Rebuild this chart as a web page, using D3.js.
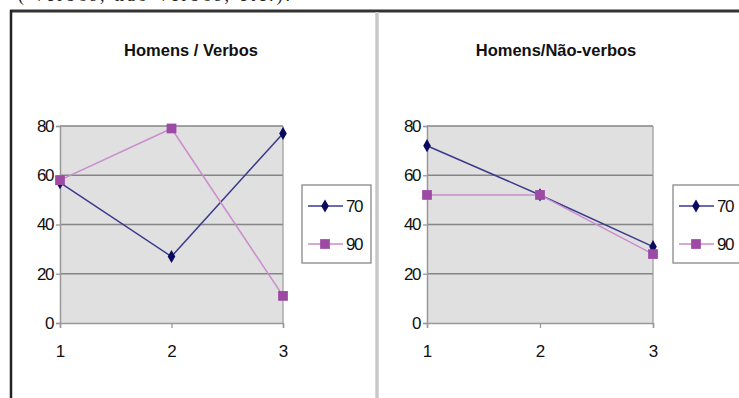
<!DOCTYPE html>
<html>
<head>
<meta charset="utf-8">
<script src="https://cdnjs.cloudflare.com/ajax/libs/d3/7.8.5/d3.min.js"></script>
<style>
  body { margin: 0; background: #fff; }
  svg { display: block; font-family: Arial, "Liberation Sans", sans-serif; }
</style>
</head>
<body>
<div id="chart"></div>
<script>
// Données
const categories = [1, 2, 3];
const seriesNames = ["70", "90"];
const verbos70 = [57, 27, 77];
const verbos90 = [58, 79, 11];
const naoVerbos70 = [72, 52, 31];
const naoVerbos90 = [52, 52, 28];
const yTicks = [0, 20, 40, 60, 80];

const panels = [
  {title: "Homens / Verbos", values: [verbos70, verbos90], left: 60, right: 283, titleX: 191, legendX: 302},
  {title: "Homens/Não-verbos", values: [naoVerbos70, naoVerbos90], left: 427, right: 653, titleX: 556, legendX: 673}
];

const W = 739, H = 398;
const plotTop = 126, plotBottom = 323;

const colors = {
  "70": {line: "#3a3a8c", marker: "#0a0a5e"},
  "90": {line: "#c98ccc", marker: "#9c4aa4"}
};

const svg = d3.select("#chart").append("svg")
  .attr("width", W)
  .attr("height", H);

// Texte coupé en haut (comme dans l'original)
svg.append("text")
  .attr("x", 18).attr("y", 1)
  .attr("textLength", 272)
  .style("font-family", "'Liberation Serif', 'Times New Roman', serif")
  .style("font-size", "18px")
  .attr("fill", "#222")
  .text("( verbos, não-verbos, etc.).");

// Cadre
svg.append("line").attr("x1", 10).attr("x2", W).attr("y1", 11).attr("y2", 11)
  .attr("stroke", "#333").attr("stroke-width", 3);
svg.append("line").attr("x1", 11).attr("x2", 11).attr("y1", 10).attr("y2", H)
  .attr("stroke", "#222").attr("stroke-width", 2.5);
svg.append("line").attr("x1", 377).attr("x2", 377).attr("y1", 12).attr("y2", H)
  .attr("stroke", "#c8c8c8").attr("stroke-width", 3.5);

const y = d3.scaleLinear().domain([0, 80]).range([plotBottom, plotTop]);

panels.forEach(p => {
  const g = svg.append("g");
  const x = d3.scalePoint().domain(categories).range([p.left, p.right]);

  // Titre
  g.append("text")
    .attr("x", p.titleX).attr("y", 56)
    .attr("text-anchor", "middle")
    .style("font-size", "16.5px")
    .style("font-weight", "bold")
    .attr("fill", "#111")
    .text(p.title);

  // Fond
  g.append("rect")
    .attr("x", p.left).attr("y", plotTop)
    .attr("width", p.right - p.left).attr("height", plotBottom - plotTop)
    .attr("fill", "#e0e0e0");

  // Grille
  g.selectAll(".grid")
    .data(yTicks.filter(d => d > 0))
    .enter().append("line")
    .attr("x1", p.left).attr("x2", p.right)
    .attr("y1", d => y(d)).attr("y2", d => y(d))
    .attr("stroke", "#858585").attr("stroke-width", 1.4);

  // Bord droit
  g.append("line")
    .attr("x1", p.right).attr("x2", p.right)
    .attr("y1", plotTop).attr("y2", plotBottom)
    .attr("stroke", "#999").attr("stroke-width", 1.2);

  // Axes
  const yAxis = g.append("g")
    .attr("transform", `translate(${p.left},0)`)
    .call(d3.axisLeft(y).tickValues(yTicks).tickSize(4).tickPadding(3));
  const xAxis = g.append("g")
    .attr("transform", `translate(0,${plotBottom})`)
    .call(d3.axisBottom(x).tickSize(5).tickPadding(17));

  [yAxis, xAxis].forEach(a => {
    a.select(".domain").attr("stroke", "#999").attr("stroke-width", 1.5);
    a.selectAll(".tick line").attr("stroke", "#999").attr("stroke-width", 1.3);
    a.selectAll("text")
      .style("font-size", "17px")
      .style("font-family", "Arial, 'Liberation Sans', sans-serif")
      .attr("fill", "#111");
  });
  yAxis.selectAll("text").style("letter-spacing", "-1.5px");

  // Séries
  const line = d3.line().x((d, i) => x(categories[i])).y(d => y(d));
  p.values.forEach((vals, si) => {
    const c = colors[seriesNames[si]];
    g.append("path")
      .datum(vals)
      .attr("d", line)
      .attr("fill", "none")
      .attr("stroke", c.line)
      .attr("stroke-width", 1.5);
  });
  p.values.forEach((vals, si) => {
    const c = colors[seriesNames[si]];
    const sym = si === 0
      ? d3.symbol().type(d3.symbolDiamond).size(50)
      : d3.symbol().type(d3.symbolSquare).size(95);
    g.selectAll(null)
      .data(vals)
      .enter().append("path")
      .attr("d", sym)
      .attr("transform", (d, i) => `translate(${x(categories[i])},${y(d)})`)
      .attr("fill", c.marker);
  });

  // Légende
  const lg = g.append("g").attr("transform", `translate(${p.legendX},185)`);
  lg.append("rect")
    .attr("x", 0).attr("y", 0)
    .attr("width", 69).attr("height", 78)
    .attr("fill", "#fff")
    .attr("stroke", "#888").attr("stroke-width", 1.3);
  seriesNames.forEach((name, si) => {
    const c = colors[name];
    const ly = 21 + si * 38;
    lg.append("line")
      .attr("x1", 6).attr("x2", 41)
      .attr("y1", ly).attr("y2", ly)
      .attr("stroke", c.line).attr("stroke-width", 1.5);
    const sym = si === 0
      ? d3.symbol().type(d3.symbolDiamond).size(50)
      : d3.symbol().type(d3.symbolSquare).size(95);
    lg.append("path")
      .attr("d", sym)
      .attr("transform", `translate(23,${ly})`)
      .attr("fill", c.marker);
    lg.append("text")
      .attr("x", 44).attr("y", ly + 6)
      .style("font-size", "17px")
      .style("letter-spacing", "-1.5px")
      .attr("fill", "#111")
      .text(name);
  });
});
</script>
</body>
</html>
